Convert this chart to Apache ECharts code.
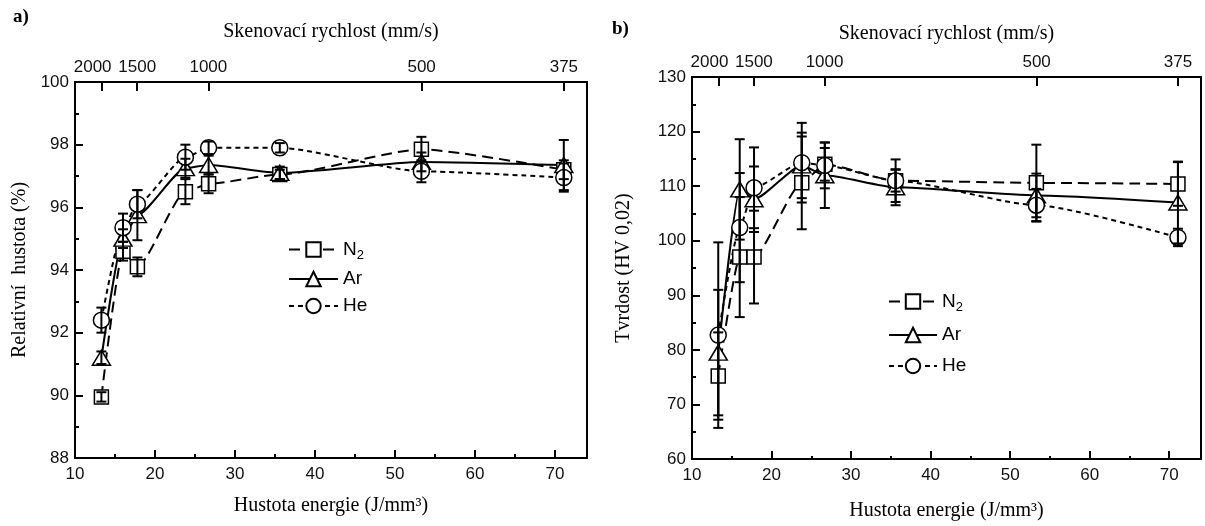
<!DOCTYPE html>
<html><head><meta charset="utf-8">
<script src="https://cdn.jsdelivr.net/npm/echarts@6/dist/echarts.min.js"></script>
<style>html,body{margin:0;padding:0;background:#fff}#c{width:1205px;height:526px}</style>
</head><body><div id="c"></div>
<script>
// ---- data ----
const energyDensity = [13.3, 16.0, 17.8, 23.8, 26.7, 35.6, 53.3, 71.1];

const n2Density    = [89.95, 94.6, 94.1, 96.5, 96.75, 97.05, 97.85, 97.2];
const n2DensityErr = [0.15, 0.3, 0.3, 0.4, 0.3, 0.15, 0.4, 0.3];
const arDensity    = [91.2, 95.0, 95.75, 97.25, 97.35, 97.1, 97.45, 97.35];
const arDensityErr = [0.2, 0.3, 0.8, 0.3, 0.3, 0.2, 0.3, 0.8];
const heDensity    = [92.4, 95.35, 96.1, 97.6, 97.9, 97.9, 97.15, 96.95];
const heDensityErr = [0.4, 0.45, 0.45, 0.4, 0.2, 0.15, 0.35, 0.45];

const n2Hardness    = [75.2, 97.0, 97.0, 110.6, 114.0, 111.0, 110.6, 110.4];
const n2HardnessErr = [8, 11, 8.5, 8.5, 3, 2, 7, 4];
const arHardness    = [79.5, 109.4, 107.6, 113.8, 112.0, 109.8, 108.3, 107.0];
const arHardnessErr = [11.5, 9.2, 6, 6, 6, 3.3, 4, 7.5];
const heHardness    = [82.7, 102.4, 109.7, 114.3, 113.8, 111.0, 106.5, 100.6];
const heHardnessErr = [17, 10, 7.4, 7.3, 4.2, 3.9, 3, 1.6];

const speedTickPos    = [13.33, 17.78, 26.67, 53.33, 71.11];
const speedTickLabels = ['2000', '1500', '1000', '500', '375'];
const energyMajorTicks = [10, 20, 30, 40, 50, 60, 70];
const energyMinorTicks = [15, 25, 35, 45, 55, 65];

// ---- helpers ----
const SANS = 'Liberation Sans';
const SERIF = 'Liberation Serif';
const pairs = (xs, ys) => xs.map((x, i) => [x, ys[i]]);
const triples = (xs, ys, es) => xs.map((x, i) => [x, ys[i], es[i]]);

function errRender(params, api) {
  const x = api.value(0), y = api.value(1), e = api.value(2);
  const t = api.coord([x, y + e]), b = api.coord([x, y - e]);
  const w = 5;
  const st = { stroke: '#000', lineWidth: 2 };
  return { type: 'group', children: [
    { type: 'line', shape: { x1: t[0], y1: t[1], x2: b[0], y2: b[1] }, style: st },
    { type: 'line', shape: { x1: t[0] - w, y1: t[1], x2: t[0] + w, y2: t[1] }, style: st },
    { type: 'line', shape: { x1: b[0] - w, y1: b[1], x2: b[0] + w, y2: b[1] }, style: st }
  ]};
}

const gasStyles = {
  'N2': { symbol: 'rect', symbolSize: 14, dash: [11, 6] },
  'Ar': { symbol: 'triangle', symbolSize: [18, 15], dash: 'solid' },
  'He': { symbol: 'circle', symbolSize: 16, dash: [5, 4] }
};

function lineSeries(name, data, xi, yi) {
  const s = gasStyles[name];
  return {
    type: 'line', name, data, xAxisIndex: xi, yAxisIndex: yi,
    symbol: s.symbol, symbolSize: s.symbolSize, showSymbol: true,
    smooth: 0.2, smoothMonotone: 'x', z: 3,
    lineStyle: { color: '#000', width: 2, type: s.dash },
    itemStyle: { color: '#fff', borderColor: '#000', borderWidth: 1.5 }
  };
}
function errSeries(data, xi, yi) {
  return { type: 'custom', name: 'err', data, xAxisIndex: xi, yAxisIndex: yi,
    renderItem: errRender, encode: { x: 0, y: 1 }, z: 4, silent: true };
}

const axisLine = { show: true, lineStyle: { color: '#000', width: 2 } };
const labelStyle = { color: '#111', fontFamily: SANS, fontSize: 17 };
const nameStyle = { color: '#000', fontFamily: SERIF, fontSize: 20 };

function bottomAxis(gi, nameGap) {
  return { type: 'value', gridIndex: gi, position: 'bottom', min: 10, max: 74,
    name: 'Hustota energie (J/mm³)', nameLocation: 'middle', nameGap, nameTextStyle: nameStyle,
    axisLine, splitLine: { show: false },
    axisTick: { show: true, inside: true, length: 8, customValues: energyMajorTicks, lineStyle: { color: '#000', width: 2 } },
    axisLabel: { ...labelStyle, margin: 8, customValues: energyMajorTicks } };
}
function minorAxis(gi) {
  return { type: 'value', gridIndex: gi, position: 'bottom', min: 10, max: 74,
    axisLine: { show: false }, splitLine: { show: false }, axisLabel: { show: false },
    axisTick: { show: true, inside: true, length: 4, customValues: energyMinorTicks, lineStyle: { color: '#000', width: 2 } } };
}
function topAxis(gi, nameGap) {
  return { type: 'value', gridIndex: gi, position: 'top', min: 10, max: 74,
    name: 'Skenovací rychlost (mm/s)', nameLocation: 'middle', nameGap, nameTextStyle: nameStyle,
    axisLine, splitLine: { show: false },
    axisTick: { show: true, inside: true, length: 9, customValues: speedTickPos, lineStyle: { color: '#000', width: 2 } },
    axisLabel: { ...labelStyle, margin: 6, customValues: speedTickPos, hideOverlap: false,
      rich: {
        first: { fontFamily: SANS, fontSize: 17, color: '#111', padding: [0, 18, 0, 0] },
        n: { fontFamily: SANS, fontSize: 17, color: '#111' }
      },
      formatter: v => {
        const i = speedTickPos.findIndex(p => Math.abs(p - v) < 1e-6);
        if (i < 0) return '';
        return (i === 0 ? '{first|' : '{n|') + speedTickLabels[i] + '}';
      } } };
}
function leftAxis(gi, min, max, interval, name, nameGap) {
  return { type: 'value', gridIndex: gi, min, max, interval,
    name, nameLocation: 'middle', nameGap, nameTextStyle: nameStyle,
    axisLine, splitLine: { show: false },
    axisTick: { show: true, inside: true, length: 8, lineStyle: { color: '#000', width: 2 } },
    minorTick: { show: true, splitNumber: 2, length: 4, lineStyle: { color: '#000', width: 2 } },
    axisLabel: { ...labelStyle, margin: 6 } };
}

function legendFmt(name) {
  return name === 'N2' ? '{b|N}{s|2}' : '{b|' + name + '}';
}
const legendText = { color: '#000', fontFamily: SANS, fontSize: 19,
  rich: { b: { fontFamily: SANS, fontSize: 19, lineHeight: 24, color: '#000' },
          s: { fontFamily: SANS, fontSize: 13, lineHeight: 24, verticalAlign: 'bottom', color: '#000' } } };

const gridA = { left: 75, top: 82, width: 512, height: 376 };
const gridB = { left: 692, top: 77, width: 509, height: 383 };

const option = {
  animation: false,
  backgroundColor: '#fff',
  grid: [
    { ...gridA, show: true, borderColor: '#000', borderWidth: 2 },
    { ...gridB, show: true, borderColor: '#000', borderWidth: 2 },
    { ...gridA }, { ...gridB }
  ],
  xAxis: [ bottomAxis(0, 38), topAxis(0, 40), bottomAxis(1, 42), topAxis(1, 33), minorAxis(2), minorAxis(3) ],
  yAxis: [
    leftAxis(0, 88, 100, 2, 'Relativní  hustota (%)', 45),
    leftAxis(1, 60, 130, 10, 'Tvrdost (HV 0,02)', 58),
    { type: 'value', gridIndex: 2, min: 0, max: 1, show: false },
    { type: 'value', gridIndex: 3, min: 0, max: 1, show: false }
  ],
  legend: [
    { orient: 'vertical', left: 283, top: 235, itemWidth: 49, itemHeight: 18, itemGap: 8,
      data: ['N2', 'Ar', 'He'], formatter: legendFmt, textStyle: legendText, selectedMode: false },
    { orient: 'vertical', left: 883, top: 287, itemWidth: 48, itemHeight: 18, itemGap: 12,
      data: ['N2', 'Ar', 'He'], formatter: legendFmt, textStyle: legendText, selectedMode: false }
  ],
  graphic: [
    { type: 'text', left: 13, top: 8, style: { text: 'a)', font: 'bold 19px "Liberation Serif"', fill: '#000' } },
    { type: 'text', left: 612, top: 20, style: { text: 'b)', font: 'bold 19px "Liberation Serif"', fill: '#000' } }
  ],
  series: [
    lineSeries('N2', pairs(energyDensity, n2Density), 0, 0),
    lineSeries('Ar', pairs(energyDensity, arDensity), 0, 0),
    lineSeries('He', pairs(energyDensity, heDensity), 0, 0),
    errSeries(triples(energyDensity, n2Density, n2DensityErr), 0, 0),
    errSeries(triples(energyDensity, arDensity, arDensityErr), 0, 0),
    errSeries(triples(energyDensity, heDensity, heDensityErr), 0, 0),
    lineSeries('N2', pairs(energyDensity, n2Hardness), 2, 1),
    lineSeries('Ar', pairs(energyDensity, arHardness), 2, 1),
    lineSeries('He', pairs(energyDensity, heHardness), 2, 1),
    errSeries(triples(energyDensity, n2Hardness, n2HardnessErr), 2, 1),
    errSeries(triples(energyDensity, arHardness, arHardnessErr), 2, 1),
    errSeries(triples(energyDensity, heHardness, heHardnessErr), 2, 1)
  ]
};
const chart = echarts.init(document.getElementById('c'), null, { renderer: 'canvas' });
chart.setOption(option);
</script></body></html>
